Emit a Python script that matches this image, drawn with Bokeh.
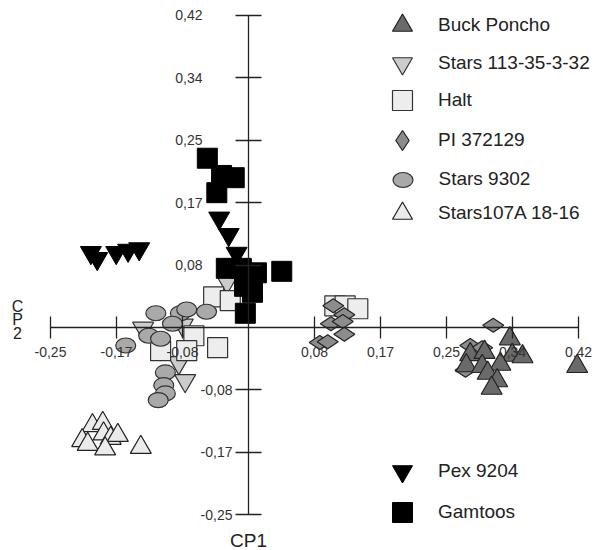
import math
from bokeh.plotting import figure
from bokeh.models import (LinearAxis, FixedTicker, Range1d, Legend, LegendItem, Label)
from bokeh.embed import file_html
from bokeh.resources import INLINE

# ---------------- data (CP1 = x, CP2 = y) ----------------
buck_x = [0.330, 0.280, 0.298, 0.333, 0.346, 0.275, 0.295, 0.318, 0.302, 0.314, 0.307, 0.415]
buck_y = [-0.015, -0.036, -0.033, -0.037, -0.039, -0.051, -0.052, -0.049, -0.061, -0.071, -0.081, -0.052]

stars113_x = [-0.133, -0.083, -0.088, -0.080, -0.027]
stars113_y = [-0.001, 0.003, -0.047, -0.071, 0.061]

halt_x = [-0.044, -0.023, -0.069, -0.111, -0.078, -0.039, 0.109, 0.122, 0.138]
halt_y = [0.041, 0.036, -0.011, -0.031, -0.031, -0.027, 0.029, 0.029, 0.025]

pi_x = [0.107, 0.121, 0.104, 0.119, 0.121, 0.090, 0.100, 0.309, 0.280, 0.295, 0.274]
pi_y = [0.029, 0.017, 0.005, 0.008, -0.009, -0.020, -0.019, 0.003, -0.024, -0.027, -0.057]

s9302_x = [-0.117, -0.086, -0.078, -0.053, -0.096, -0.126, -0.111, -0.155, -0.105, -0.107, -0.105, -0.114]
s9302_y = [0.019, 0.019, 0.024, 0.021, 0.005, -0.011, -0.015, -0.024, -0.060, -0.077, -0.088, -0.097]

s107_x = [-0.197, -0.184, -0.183, -0.210, -0.203, -0.174, -0.165, -0.181, -0.136]
s107_y = [-0.131, -0.128, -0.142, -0.151, -0.156, -0.148, -0.144, -0.162, -0.160]

pex_x = [-0.199, -0.191, -0.167, -0.152, -0.138, -0.037, -0.025, -0.015]
pex_y = [0.100, 0.092, 0.100, 0.103, 0.105, 0.146, 0.124, 0.099]

gam_x = [-0.052, -0.034, -0.018, -0.040, -0.028, -0.009, 0.010, 0.042, -0.005, 0.005, -0.004]
gam_y = [0.226, 0.203, 0.200, 0.180, 0.079, 0.079, 0.073, 0.075, 0.055, 0.047, 0.019]

x_tick_labels = ["-0,25", "-0,17", "-0,08", "0,08", "0,17", "0,25", "0,34", "0,42"]
y_tick_labels_pos = ["0,08", "0,17", "0,25", "0,34", "0,42"]
y_tick_labels_neg = ["-0,25", "-0,17", "-0,08"]

# tick positions: evenly spaced in twelfths
x_ticks = [k / 12 for k in (-3, -2, -1, 1, 2, 3, 4, 5)]
y_ticks_pos = [k / 12 for k in (1, 2, 3, 4, 5)]
y_ticks_neg = [k / 12 for k in (-3, -2, -1)]

FONT = "Liberation Sans"
W, H = 602, 550

p = figure(width=W, height=H,
           x_range=Range1d(-0.31313, 0.44697), y_range=Range1d(-0.29773, 0.43658),
           output_backend="svg", toolbar_location=None,
           x_axis_location=None, y_axis_location=None,
           min_border_left=0, min_border_right=0, min_border_top=0, min_border_bottom=0,
           outline_line_color=None, background_fill_color="white")
p.xgrid.visible = False
p.ygrid.visible = False

axis_style = dict(axis_line_color="#222", axis_line_width=1.3,
                  major_tick_line_color="#222", major_tick_line_width=1.3,
                  minor_tick_line_color=None,
                  major_label_text_font=FONT, major_label_text_font_size="14px",
                  major_label_text_color="#333")

xa = LinearAxis(fixed_location=0, ticker=FixedTicker(ticks=x_ticks),
                major_label_overrides={t: l for t, l in zip(x_ticks, x_tick_labels)},
                bounds=(x_ticks[0], x_ticks[-1]), major_tick_in=11, major_tick_out=11,
                major_label_standoff=9, **axis_style)
p.add_layout(xa, "below")

ya1 = LinearAxis(fixed_location=0, ticker=FixedTicker(ticks=y_ticks_pos),
                 major_label_overrides={t: l for t, l in zip(y_ticks_pos, y_tick_labels_pos)},
                 bounds=(0, y_ticks_pos[-1]), major_tick_in=13, major_tick_out=13,
                 major_label_standoff=33, **axis_style)
p.add_layout(ya1, "left")
ya2 = LinearAxis(fixed_location=0, ticker=FixedTicker(ticks=y_ticks_neg),
                 major_label_overrides={t: l for t, l in zip(y_ticks_neg, y_tick_labels_neg)},
                 bounds=(y_ticks_neg[0], 0), major_tick_in=13, major_tick_out=13,
                 major_label_standoff=3, **axis_style)
p.add_layout(ya2, "left")

# ---------------- glyphs ----------------
r_s107 = p.scatter(s107_x, s107_y, marker="triangle", size=21,
                   fill_color="#ebebeb", line_color="#222", line_width=1.2)
r_s113 = p.scatter(stars113_x, stars113_y, marker="inverted_triangle", size=21,
                   fill_color="#cbcbcb", line_color="#333", line_width=1.2)
r_halt = p.scatter(halt_x, halt_y, marker="square", size=20,
                   fill_color="#ededed", line_color="#333", line_width=1.2)
r_s9302 = p.ellipse(s9302_x, s9302_y, width=20, height=15,
                    width_units="screen", height_units="screen",
                    fill_color="#a9a9a9", line_color="#333", line_width=1.2)
r_pi = p.scatter(pi_x, pi_y, marker="diamond", size=21, angle=math.pi / 2,
                 fill_color="#8c8c8c", line_color="#222", line_width=1.2)
r_buck = p.scatter(buck_x, buck_y, marker="triangle", size=21,
                   fill_color="#6a6a6a", line_color="#222", line_width=1.2)
r_pex = p.scatter(pex_x, pex_y, marker="inverted_triangle", size=21,
                  fill_color="black", line_color="black", line_width=1)
r_gam = p.scatter(gam_x, gam_y, marker="square", size=20,
                  fill_color="black", line_color="black", line_width=1)

# ---------------- legend (one per row, for free placement) ----------------
legend_rows = [
    ("Buck Poncho", r_buck, 25, 50),
    ("Stars 113-35-3-32", r_s113, 63, 50),
    ("Halt", r_halt, 100, 50),
    ("PI 372129", r_pi, 140, 50),
    ("Stars 9302", r_s9302, 179, 25),
    ("Stars107A 18-16", r_s107, 213, 50),
    ("Pex 9204", r_pex, 471, 50),
    ("Gamtoos", r_gam, 512, 50),
]
GX = 402      # glyph centre (px)
TX = 438      # text start (px)
for label, rend, cy, g in legend_rows:
    leg = Legend(items=[LegendItem(label=label, renderers=[rend])],
                 location=(GX - g / 2, H - (cy + g / 2)),
                 glyph_width=g, glyph_height=g, label_height=g,
                 label_standoff=int(round(TX - (GX + g / 2))),
                 padding=0, margin=0, spacing=0,
                 border_line_color=None, background_fill_alpha=0,
                 label_text_font=FONT, label_text_font_size="19px",
                 label_text_color="#222")
    p.add_layout(leg)

# ---------------- axis titles ----------------
p.add_layout(Label(x=0, x_units="data", y=10, y_units="screen", text="CP1",
                   text_align="center", text_baseline="middle",
                   text_font=FONT, text_font_size="19px", text_color="#222"))
for ch, yc in (("C", 244), ("P", 231), ("2", 218)):
    p.add_layout(Label(x=17, x_units="screen", y=yc, y_units="screen", text=ch,
                       text_align="center", text_baseline="middle",
                       text_font=FONT, text_font_size="16px", text_color="#222"))

open("out.html", "w").write(file_html(p, INLINE))
